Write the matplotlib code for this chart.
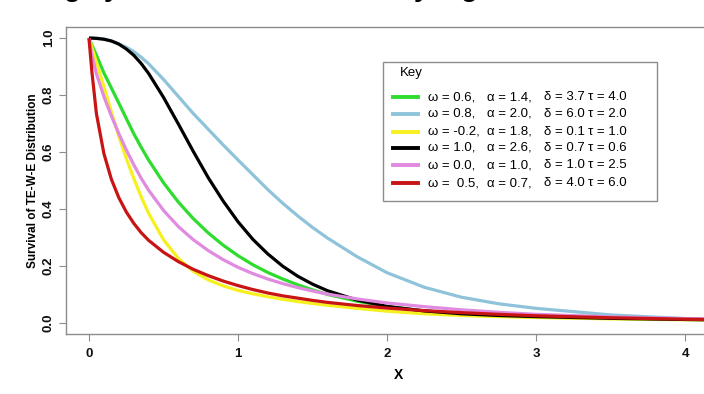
import numpy as np
import matplotlib.pyplot as plt
from matplotlib.lines import Line2D
from matplotlib.patches import Rectangle

plt.rcParams['font.family'] = ['Liberation Sans', 'DejaVu Sans']

x = [0, 0.02, 0.05, 0.1, 0.15, 0.2, 0.25, 0.3, 0.35, 0.4, 0.5, 0.6, 0.7, 0.8, 0.9, 1.0,
     1.1, 1.2, 1.3, 1.4, 1.5, 1.6, 1.8, 2.0, 2.25, 2.5, 2.75, 3.0, 3.5, 4.0, 4.3]

s_green = [1.0, 0.975, 0.94, 0.878, 0.825, 0.772, 0.718, 0.665, 0.617, 0.572, 0.492, 0.424,
           0.366, 0.316, 0.273, 0.236, 0.204, 0.177, 0.154, 0.134, 0.116, 0.1, 0.076, 0.057,
           0.042, 0.032, 0.026, 0.021, 0.016, 0.012, 0.01]
s_blue = [1.0, 1.0, 1.0, 0.997, 0.99, 0.98, 0.968, 0.953, 0.933, 0.91, 0.855, 0.795, 0.735,
          0.68, 0.625, 0.572, 0.52, 0.468, 0.42, 0.376, 0.335, 0.298, 0.232, 0.176, 0.125,
          0.09, 0.067, 0.051, 0.028, 0.015, 0.011]
s_yellow = [1.0, 0.967, 0.915, 0.83, 0.742, 0.656, 0.578, 0.508, 0.443, 0.385, 0.292, 0.226,
            0.181, 0.151, 0.13, 0.114, 0.102, 0.092, 0.083, 0.075, 0.068, 0.062, 0.051, 0.041,
            0.032, 0.026, 0.022, 0.019, 0.014, 0.011, 0.01]
s_black = [1.0, 1.0, 0.999, 0.996, 0.99, 0.979, 0.962, 0.94, 0.911, 0.876, 0.792, 0.698,
           0.602, 0.51, 0.428, 0.355, 0.293, 0.242, 0.199, 0.164, 0.136, 0.113, 0.08, 0.058,
           0.042, 0.032, 0.026, 0.022, 0.016, 0.012, 0.01]
s_violet = [1.0, 0.94, 0.875, 0.795, 0.727, 0.665, 0.608, 0.556, 0.508, 0.466, 0.395, 0.338,
            0.292, 0.254, 0.222, 0.195, 0.173, 0.154, 0.138, 0.124, 0.112, 0.101, 0.084, 0.07,
            0.057, 0.046, 0.037, 0.03, 0.021, 0.015, 0.012]
s_red = [1.0, 0.88, 0.735, 0.595, 0.505, 0.44, 0.39, 0.35, 0.317, 0.29, 0.248, 0.215,
         0.188, 0.166, 0.147, 0.131, 0.117, 0.105, 0.095, 0.087, 0.079, 0.072, 0.061, 0.052,
         0.043, 0.036, 0.03, 0.025, 0.018, 0.013, 0.011]

omega = ['0.6,', '0.8,', '-0.2,', '1.0,', '0.0,', ' 0.5,']
alpha = ['1.4,', '2.0,', '1.8,', '2.6,', '1.0,', '0.7,']
delta = ['3.7', '6.0', '0.1', '0.7', '1.0', '4.0']
tau = ['4.0', '2.0', '1.0', '0.6', '2.5', '6.0']

curves = [s_green, s_blue, s_yellow, s_black, s_violet, s_red]
colors = ['#2edc2e', '#8ec3da', '#f5f01e', '#000000', '#e08ae0', '#c81414']

W, H = 704, 394
fig = plt.figure(figsize=(W / 100, H / 100), dpi=100)


def fx(px):
    return px / W


def fy(py):
    return 1 - py / H


# axes box from pixel edges (right side runs off the picture)
ax = fig.add_axes([fx(66), fy(334), fx(730) - fx(66), fy(27) - fy(334)])
for ys, c in zip(curves, colors):
    ax.plot(x, ys, color=c, lw=2.3, solid_capstyle='butt', solid_joinstyle='round')

ax.set_xlim(-0.154, 4.30)
ax.set_ylim(-0.039, 1.039)
ax.set_xticks([0, 1, 2, 3, 4])
ax.set_yticks([0.0, 0.2, 0.4, 0.6, 0.8, 1.0])
ax.set_yticklabels(['0.0', '0.2', '0.4', '0.6', '0.8', '1.0'], rotation=90, va='center')
for sp in ax.spines.values():
    sp.set_color('#8c8c8c')
    sp.set_linewidth(1.0)
ax.tick_params(colors='#8c8c8c', labelcolor='#111111', length=5, width=0.8)
ax.tick_params(axis='x', pad=5)
ax.tick_params(axis='y', pad=3)
for lab in ax.get_xticklabels() + ax.get_yticklabels():
    lab.set_fontweight('bold')
    lab.set_fontsize(9.5)

ax.set_xlabel('X', fontsize=10, fontweight='bold', labelpad=6)
ax.set_ylabel('Survival of TE-W-E Distribution', fontsize=8.5, fontweight='bold', labelpad=3)

# legend drawn by hand (R style "Key" box)
fig.add_artist(Rectangle((fx(383), fy(201)), fx(657) - fx(383), fy(62) - fy(201),
                         transform=fig.transFigure, fill=True, facecolor='white',
                         edgecolor='#8c8c8c', lw=1.0))
fig.text(fx(400), fy(73), 'Key', fontsize=9.5, va='center', ha='left')
row_y = [97, 114, 132, 148, 165, 183]
for i, c in enumerate(colors):
    yy = fy(row_y[i])
    fig.add_artist(Line2D([fx(393), fx(418)], [yy, yy], color=c, lw=2.8,
                          transform=fig.transFigure))
    fig.text(fx(428), yy, '\u03c9 = ' + omega[i], fontsize=9.5, va='center')
    fig.text(fx(487), yy, '\u03b1 = ' + alpha[i], fontsize=9.5, va='center')
    fig.text(fx(544), yy, '\u03b4 = ' + delta[i], fontsize=9.5, va='center')
    fig.text(fx(588), yy, '\u03c4 = ' + tau[i], fontsize=9.5, va='center')

# bottoms of the cropped caption letters above the plot
frag_x = [72, 112, 422, 469]
frag_txt = ['g', 'y', 'y', 'g']
for px, t in zip(frag_x, frag_txt):
    fig.text(fx(px), 1 + 3.5 / H, t, fontsize=20, fontweight='bold',
             ha='center', va='baseline')

fig.savefig('out.png', dpi=100)
